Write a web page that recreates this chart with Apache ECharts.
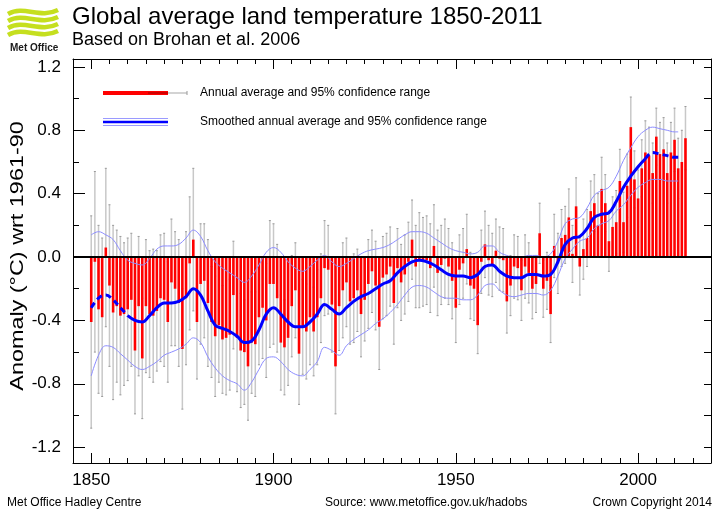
<!DOCTYPE html>
<html>
<head>
    <meta charset="utf-8"/>
    <title>Global average land temperature 1850-2011</title>
    <script src="https://cdn.jsdelivr.net/npm/echarts@6/dist/echarts.min.js"></script>
    <style>
        html, body { margin: 0; padding: 0; background: #fff; }
        #container { width: 720px; height: 513px; }
    </style>
</head>
<body>
<div id="container"></div>
<script type="text/javascript">
    // annual anomalies, first year 1850, last 2013
    var firstYear = 1850;
    var anomaly = [
        -0.41, -0.03, -0.33, -0.38, 0.06, -0.18, -0.35, -0.31, -0.37, -0.36,
        -0.33, -0.27, -0.59, -0.31, -0.64, -0.31, -0.36, -0.37, -0.34, -0.26,
        -0.27, -0.41, -0.16, -0.20, -0.29, -0.58, -0.26, -0.04, 0.11, -0.41,
        -0.17, -0.15, -0.29, -0.41, -0.50, -0.43, -0.52, -0.51, -0.49, -0.24,
        -0.51, -0.59, -0.60, -0.69, -0.54, -0.55, -0.38, -0.32, -0.40, -0.17,
        -0.17, -0.26, -0.54, -0.57, -0.51, -0.31, -0.21, -0.61, -0.44, -0.47,
        -0.38, -0.47, -0.38, -0.26, -0.07, -0.08, -0.30, -0.69, -0.31, -0.21,
        -0.16, -0.28, -0.26, -0.21, -0.36, -0.27, -0.17, -0.09, -0.18, -0.44,
        -0.13, -0.11, -0.06, -0.29, -0.07, -0.16, -0.11, -0.03, 0.11, -0.06,
        -0.02, -0.03, -0.02, -0.07, 0.07, -0.10, -0.05, -0.01, -0.06, -0.15,
        -0.32, -0.08, -0.04, 0.05, -0.18, -0.20, -0.43, -0.03, 0.08, -0.02,
        -0.05, 0.04, -0.01, -0.02, -0.28, -0.18, -0.06, -0.07, -0.21, -0.06,
        -0.10, -0.20, -0.17, 0.15, -0.20, -0.15, -0.36, 0.07, -0.04, 0.12,
        0.14, 0.25, 0.02, 0.32, -0.06, 0.05, 0.12, 0.29, 0.34, 0.20,
        0.43, 0.34, 0.10, 0.19, 0.22, 0.48, 0.22, 0.45, 0.82, 0.49,
        0.37, 0.56, 0.66, 0.64, 0.53, 0.76, 0.65, 0.68, 0.53, 0.66,
        0.74, 0.56, 0.60, 0.75
    ];
    // half width of the 95% range of each year
    var rangeHalf = [
        0.67, 0.57, 0.53, 0.50, 0.50, 0.51, 0.55, 0.48, 0.50, 0.45,
        0.45, 0.42, 0.40, 0.44, 0.38, 0.42, 0.40, 0.42, 0.38, 0.40,
        0.42, 0.38, 0.40, 0.36, 0.40, 0.38, 0.42, 0.42, 0.45, 0.36,
        0.38, 0.36, 0.40, 0.35, 0.38, 0.36, 0.34, 0.36, 0.35, 0.34,
        0.34, 0.36, 0.33, 0.34, 0.32, 0.33, 0.30, 0.32, 0.36, 0.40,
        0.38, 0.34, 0.30, 0.30, 0.30, 0.32, 0.30, 0.32, 0.30, 0.30,
        0.30, 0.28, 0.30, 0.28, 0.30, 0.28, 0.30, 0.30, 0.28, 0.30,
        0.28, 0.27, 0.28, 0.26, 0.27, 0.26, 0.28, 0.26, 0.28, 0.27,
        0.26, 0.26, 0.25, 0.26, 0.25, 0.24, 0.25, 0.25, 0.25, 0.26,
        0.30, 0.28, 0.28, 0.28, 0.26, 0.27, 0.25, 0.25, 0.24, 0.24,
        0.22, 0.22, 0.22, 0.22, 0.21, 0.20, 0.18, 0.20, 0.21, 0.22,
        0.20, 0.20, 0.20, 0.20, 0.20, 0.19, 0.20, 0.20, 0.19, 0.20,
        0.19, 0.19, 0.18, 0.19, 0.18, 0.18, 0.18, 0.20, 0.19, 0.18,
        0.18, 0.18, 0.18, 0.18, 0.18, 0.19, 0.18, 0.19, 0.18, 0.20,
        0.20, 0.18, 0.19, 0.19, 0.20, 0.20, 0.19, 0.20, 0.19, 0.18,
        0.18, 0.18, 0.20, 0.18, 0.19, 0.18, 0.20, 0.20, 0.19, 0.19,
        0.20, 0.19, 0.20, 0.20
    ];
    // smoothed curve, read every second year 1850-2010, then 2011
    var smoothMid = [
        -0.32, -0.26, -0.24, -0.27, -0.32, -0.37, -0.40, -0.41, -0.37, -0.32,
        -0.29, -0.29, -0.28, -0.25, -0.20, -0.24, -0.34, -0.43, -0.45, -0.47,
        -0.50, -0.54, -0.53, -0.46, -0.36, -0.32, -0.36, -0.41, -0.44, -0.44,
        -0.41, -0.36, -0.30, -0.33, -0.36, -0.32, -0.28, -0.25, -0.23, -0.20,
        -0.17, -0.15, -0.10, -0.06, -0.03, -0.02, -0.03, -0.05, -0.08, -0.11,
        -0.12, -0.12, -0.13, -0.11, -0.06, -0.05, -0.09, -0.12, -0.13, -0.13,
        -0.11, -0.11, -0.12, -0.11, -0.03, 0.08, 0.12, 0.13, 0.18, 0.25,
        0.27, 0.28, 0.35, 0.44, 0.51, 0.57, 0.62, 0.66, 0.65, 0.64,
        0.63, 0.63
    ];
    var smoothHi = [
        0.14, 0.16, 0.14, 0.11, 0.04, -0.02, -0.04, -0.05, -0.01, 0.05,
        0.07, 0.07, 0.08, 0.12, 0.17, 0.13, 0.04, -0.03, -0.07, -0.10,
        -0.13, -0.16, -0.12, -0.05, 0.03, 0.06, 0.03, -0.03, -0.07, -0.09,
        -0.06, -0.02, 0.01, -0.03, -0.06, -0.04, -0.01, 0.02, 0.04, 0.05,
        0.06, 0.08, 0.11, 0.14, 0.16, 0.16, 0.15, 0.12, 0.09, 0.06,
        0.04, 0.03, 0.02, 0.03, 0.07, 0.07, 0.03, 0.01, 0.00, 0.00,
        0.01, 0.01, 0.00, 0.02, 0.10, 0.21, 0.24, 0.25, 0.31, 0.39,
        0.42, 0.44, 0.51, 0.61, 0.69, 0.76, 0.80, 0.82, 0.81, 0.80,
        0.79, 0.79
    ];
    var smoothLo = [
        -0.75, -0.62, -0.56, -0.57, -0.61, -0.65, -0.69, -0.71, -0.69, -0.66,
        -0.62, -0.60, -0.58, -0.55, -0.51, -0.54, -0.63, -0.70, -0.75, -0.78,
        -0.80, -0.84, -0.79, -0.71, -0.64, -0.63, -0.66, -0.71, -0.74, -0.75,
        -0.71, -0.66, -0.57, -0.59, -0.62, -0.56, -0.52, -0.49, -0.46, -0.42,
        -0.39, -0.35, -0.30, -0.24, -0.19, -0.18, -0.19, -0.22, -0.25, -0.26,
        -0.26, -0.27, -0.27, -0.24, -0.18, -0.17, -0.21, -0.24, -0.25, -0.24,
        -0.23, -0.23, -0.24, -0.21, -0.12, -0.01, 0.05, 0.10, 0.12, 0.18,
        0.21, 0.23, 0.29, 0.33, 0.39, 0.44, 0.47, 0.49, 0.49, 0.48,
        0.48, 0.48
    ];
    // end effect years, drawn dashed
    var dashedBefore = 1860;
    var dashedAfter = 2002;

    var yearTicks = [1850, 1900, 1950, 2000];
    var yLabels = [-1.2, -0.8, -0.4, 0, 0.4, 0.8, 1.2];
    var yMinor = [-1.2, -1.0, -0.8, -0.6, -0.4, -0.2, 0, 0.2, 0.4, 0.6, 0.8, 1.0, 1.2];

    var years = [];
    for (var i = 0; i < anomaly.length; i++) years.push(firstYear + i);
    var smoothYears = [];
    for (var y = 1850; y <= 2010; y += 2) smoothYears.push(y);
    smoothYears.push(2011);
    var xMinor = [];
    for (var t = 1850; t <= 2015; t += 5) xMinor.push(t);

    var barData = years.map(function (yr, i) { return [yr, anomaly[i]]; });
    var rangeData = years.map(function (yr, i) {
        return [yr, anomaly[i] - rangeHalf[i], anomaly[i] + rangeHalf[i]];
    });
    function pairs(arr, from, to) {
        var out = [];
        smoothYears.forEach(function (yr, i) {
            if (yr >= from && yr <= to) out.push([yr, arr[i]]);
        });
        return out;
    }

    var font = "'Liberation Sans', Arial, Helvetica, sans-serif";

    function xAx(pos, ticks, len, labels, line) {
        return {
            type: 'value', min: 1845, max: 2020, position: pos,
            axisLine: { show: line, onZero: false, lineStyle: { color: '#000', width: 1 } },
            axisTick: { show: true, inside: true, length: len, customValues: ticks, lineStyle: { color: '#000', width: 1 } },
            axisLabel: labels ? {
                customValues: yearTicks, fontSize: 17, color: '#000', margin: 9, fontFamily: font,
                formatter: function (v) { return String(v); }
            } : { show: false },
            splitLine: { show: false }
        };
    }
    function yAx(pos, ticks, len, labels, line) {
        return {
            type: 'value', min: -1.3, max: 1.25, position: pos,
            axisLine: { show: line, onZero: false, lineStyle: { color: '#000', width: 1 } },
            axisTick: { show: true, inside: true, length: len, customValues: ticks, lineStyle: { color: '#000', width: 1 } },
            axisLabel: labels ? {
                customValues: yLabels, fontSize: 17, color: '#000', margin: 12, fontFamily: font,
                formatter: function (v) { return v.toFixed(1); }
            } : { show: false },
            splitLine: { show: false }
        };
    }

    var dom = document.getElementById('container');
    var myChart = echarts.init(dom, null, { renderer: 'canvas' });

    var logo = [];
    for (var k = 0; k < 4; k++) {
        var y0 = 12 + k * 7;
        logo.push({
            type: 'bezierCurve',
            shape: { x1: 8, y1: y0 + 2, cpx1: 24, cpy1: y0 - 7, cpx2: 40, cpy2: y0 + 7, x2: 58, y2: y0 - 2 },
            style: { stroke: '#c5df1f', lineWidth: 4.5, fill: null }
        });
    }

    var option = {
        animation: false,
        backgroundColor: '#fff',
        grid: { left: 73, right: 9, top: 59, bottom: 50 },
        xAxis: [
            xAx('bottom', xMinor, 5, true, true),
            xAx('bottom', yearTicks, 10, false, false),
            xAx('top', xMinor, 5, false, true),
            xAx('top', yearTicks, 10, false, false)
        ],
        yAxis: [
            yAx('left', yLabels, 12, true, true),
            yAx('left', yMinor, 6, false, false),
            yAx('right', yMinor, 7, false, true)
        ],
        graphic: logo.concat([
            { type: 'text', left: 10, top: 43, style: { text: 'Met Office', font: "bold 10px 'Liberation Sans', sans-serif", fill: '#1a1a1a' } },
            { type: 'text', left: 72, top: 5, style: { text: 'Global average land temperature 1850-2011', font: "24px 'Liberation Sans', sans-serif", fill: '#000' } },
            { type: 'text', left: 72, top: 31, style: { text: 'Based on Brohan et al. 2006', font: "18px 'Liberation Sans', sans-serif", fill: '#000' } },
            {
                type: 'text', x: 18, y: 256, rotation: Math.PI / 2, scaleX: 1.3,
                style: { text: 'Anomaly (\u00B0C) wrt 1961-90', font: "18px 'Liberation Sans', sans-serif", fill: '#000', align: 'center', verticalAlign: 'middle' }
            },
            { type: 'line', shape: { x1: 168, y1: 93, x2: 187, y2: 93 }, style: { stroke: '#c4c4c4', lineWidth: 1.5 } },
            { type: 'line', shape: { x1: 187, y1: 91, x2: 187, y2: 95 }, style: { stroke: '#999', lineWidth: 1 } },
            { type: 'line', shape: { x1: 103, y1: 93, x2: 168, y2: 93 }, style: { stroke: '#ff0000', lineWidth: 4 } },
            { type: 'line', shape: { x1: 148, y1: 93, x2: 168, y2: 93 }, style: { stroke: '#c00000', lineWidth: 1.5 } },
            { type: 'text', x: 200, y: 93, style: { text: 'Annual average and 95% confidence range', font: "12px 'Liberation Sans', sans-serif", fill: '#000', verticalAlign: 'middle' } },
            { type: 'line', shape: { x1: 103, y1: 118.5, x2: 168, y2: 118.5 }, style: { stroke: '#9a9aff', lineWidth: 1 } },
            { type: 'line', shape: { x1: 103, y1: 125.5, x2: 168, y2: 125.5 }, style: { stroke: '#9a9aff', lineWidth: 1 } },
            { type: 'line', shape: { x1: 103, y1: 122, x2: 168, y2: 122 }, style: { stroke: '#0000ff', lineWidth: 2.5 } },
            { type: 'text', x: 200, y: 122, style: { text: 'Smoothed annual average and 95% confidence range', font: "12px 'Liberation Sans', sans-serif", fill: '#000', verticalAlign: 'middle' } },
            { type: 'text', x: 7, y: 503, style: { text: 'Met Office Hadley Centre', font: "12px 'Liberation Sans', sans-serif", fill: '#000', verticalAlign: 'middle' } },
            { type: 'text', x: 325, y: 503, style: { text: 'Source: www.metoffice.gov.uk/hadobs', font: "12px 'Liberation Sans', sans-serif", fill: '#000', verticalAlign: 'middle' } },
            { type: 'text', x: 712, y: 503, style: { text: 'Crown Copyright 2014', font: "12px 'Liberation Sans', sans-serif", fill: '#000', align: 'right', verticalAlign: 'middle' } }
        ]),
        series: [
            {
                name: 'range', type: 'custom', z: 1, silent: true,
                data: rangeData,
                renderItem: function (params, api) {
                    var top = api.coord([api.value(0), api.value(2)]);
                    var bot = api.coord([api.value(0), api.value(1)]);
                    return {
                        type: 'group',
                        children: [
                            { type: 'line', shape: { x1: top[0], y1: top[1], x2: bot[0], y2: bot[1] }, style: { stroke: '#c8c8c8', lineWidth: 1.5 } },
                            { type: 'line', shape: { x1: top[0] - 1, y1: top[1], x2: top[0] + 1, y2: top[1] }, style: { stroke: '#9a9a9a', lineWidth: 1 } },
                            { type: 'line', shape: { x1: bot[0] - 1, y1: bot[1], x2: bot[0] + 1, y2: bot[1] }, style: { stroke: '#9a9a9a', lineWidth: 1 } }
                        ]
                    };
                }
            },
            {
                name: 'annual', type: 'bar', z: 2, barWidth: 2.6, silent: true,
                data: barData,
                itemStyle: { color: '#ff0000' },
                markLine: {
                    silent: true, symbol: 'none', label: { show: false },
                    lineStyle: { color: '#000', width: 2, type: 'solid' },
                    data: [{ yAxis: 0 }]
                }
            },
            {
                type: 'line', z: 3, smooth: 0.4, showSymbol: false, silent: true,
                data: pairs(smoothHi, 1850, 2011),
                lineStyle: { color: '#8c8cff', width: 1 }
            },
            {
                type: 'line', z: 3, smooth: 0.4, showSymbol: false, silent: true,
                data: pairs(smoothLo, 1850, 2011),
                lineStyle: { color: '#8c8cff', width: 1 }
            },
            {
                type: 'line', z: 4, smooth: 0.4, showSymbol: false, silent: true,
                data: pairs(smoothMid, 1850, dashedBefore),
                lineStyle: { color: '#0000ff', width: 3, type: [6, 4] }
            },
            {
                type: 'line', z: 4, smooth: 0.4, showSymbol: false, silent: true,
                data: pairs(smoothMid, dashedBefore, dashedAfter),
                lineStyle: { color: '#0000ff', width: 3 }
            },
            {
                type: 'line', z: 4, smooth: 0.4, showSymbol: false, silent: true,
                data: pairs(smoothMid, dashedAfter, 2011),
                lineStyle: { color: '#0000ff', width: 3, type: [6, 4] }
            }
        ]
    };
    if (option && typeof option === "object") {
        myChart.setOption(option, true);
    }
</script>
</body>
</html>
